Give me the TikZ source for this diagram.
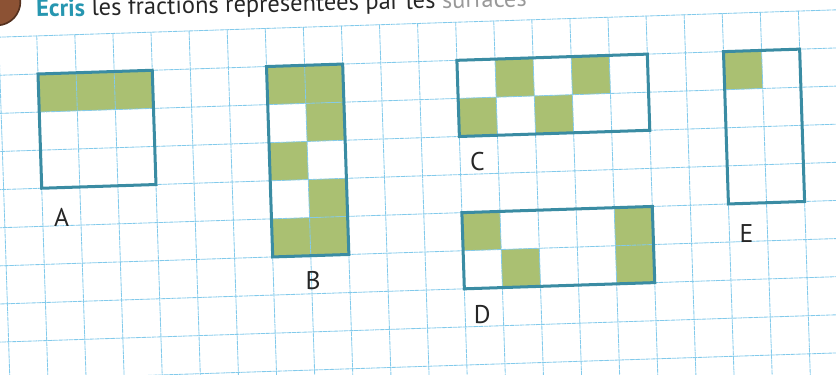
\documentclass[tikz,border=0pt]{standalone}
\usepackage{fontspec}
\setmainfont{PT Sans}
\usetikzlibrary{positioning}
\definecolor{gridblue}{RGB}{130,202,235}
\definecolor{framet}{RGB}{58,140,163}
\definecolor{cellgreen}{RGB}{170,192,114}
\definecolor{titleteal}{RGB}{38,150,176}
\definecolor{badgebrown}{RGB}{140,82,52}
\tikzset{
  gridline/.style={draw=gridblue,line width=.5pt,dash pattern=on 2.4pt off .7pt},
  cellfill/.style={fill=cellgreen},
  shapeframe/.style={draw=framet,line width=1.8pt,line join=miter},
  lab/.style={font=\fontsize{15.3}{18}\selectfont,text=black!85,inner sep=0pt}
}
\begin{document}
\begin{tikzpicture}[x=0.021cm,y=-0.021cm,line cap=round,line join=round]
\path[use as bounding box] (0,0) rectangle (836,375);
\clip (0,0) rectangle (836,375);
\begin{scope}[shift={(38,74)},rotate=1.87,x=0.8cm,y=-0.8cm]
% heading
\filldraw[fill=badgebrown,draw=badgebrown!60!black,line width=1pt] (-1.02,-1.93) circle (0.62);
\node[anchor=base west,inner sep=0pt,font=\fontsize{14.6}{17}\selectfont,text=black!85,rotate=1.2] (title) at (0.0,-1.5) {\textcolor{titleteal}{\bfseries Écris} les fractions représentées par les \textcolor{black!40}{surfaces}};
% shaded cells
\fill[cellfill] (0,0) rectangle (3,1);
\fill[cellfill] (6,0) rectangle (8,1);
\fill[cellfill] (7,1) rectangle (8,2);
\fill[cellfill] (6,2) rectangle (7,3);
\fill[cellfill] (7,3) rectangle (8,4);
\fill[cellfill] (6,4) rectangle (8,5);
\fill[cellfill] (12,0) rectangle (13,1);
\fill[cellfill] (14,0) rectangle (15,1);
\fill[cellfill] (11,1) rectangle (12,2);
\fill[cellfill] (13,1) rectangle (14,2);
\fill[cellfill] (11,4) rectangle (12,5);
\fill[cellfill] (12,5) rectangle (13,6);
\fill[cellfill] (15,4) rectangle (16,6);
\fill[cellfill] (18,0) rectangle (19,1);
% squared paper
\foreach \r in {-1,...,9} \draw[gridline] (-2,\r) -- (22,\r);
\foreach \c in {-2,...,22} \draw[gridline] (\c,-1) -- (\c,9.5);
% outlines
\draw[shapeframe] (0,0) rectangle (3,3);
\draw[shapeframe] (6,0) rectangle (8,5);
\draw[shapeframe] (11,0) rectangle (16,2);
\draw[shapeframe] (11,4) rectangle (16,6);
\draw[shapeframe] (18,0) rectangle (20,4);
% labels
\node[lab] (labA) at (0.5,3.77) {A};
\node[lab] (labB) at (7.04,5.65) {B};
\node[lab] (labC) at (11.45,2.66) {C};
\node[lab] (labD) at (11.45,6.7) {D};
\node[lab] (labE) at (18.45,4.8) {E};
\end{scope}
\end{tikzpicture}
\end{document}
